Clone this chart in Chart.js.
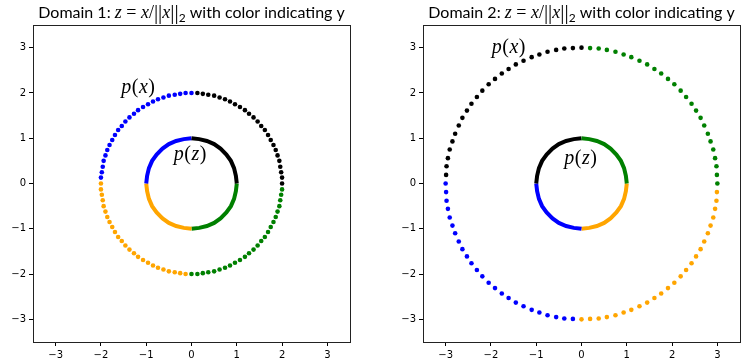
<!DOCTYPE html>
<html>
<head>
<meta charset="utf-8">
<script src="https://cdn.jsdelivr.net/npm/chart.js@4/dist/chart.umd.min.js"></script>
<style>
  body { margin: 0; background: #fff; overflow: hidden; }
  canvas { position: absolute; top: 0; }
</style>
</head>
<body>
<canvas id="domain1" width="373" height="364" style="left:0"></canvas>
<canvas id="domain2" width="373" height="364" style="left:374px"></canvas>
<script>
// Axis ticks (both panels)
const tickValues = [-3, -2, -1, 0, 1, 2, 3];

// Domain 1: outer ring p(x), radius 2, split by quadrant
const d1RingQ1X = [2.00,2.00,1.98,1.96,1.94,1.90,1.86,1.81,1.75,1.69,1.62,1.54,1.46,1.37,1.27,1.18,1.07,0.96,0.85,0.74,0.62,0.50,0.37,0.25,0.13];
const d1RingQ1Y = [0,0.13,0.25,0.37,0.50,0.62,0.74,0.85,0.96,1.07,1.18,1.27,1.37,1.46,1.54,1.62,1.69,1.75,1.81,1.86,1.90,1.94,1.96,1.98,2.00];
const d1RingQ2X = [0,-0.13,-0.25,-0.37,-0.50,-0.62,-0.74,-0.85,-0.96,-1.07,-1.18,-1.27,-1.37,-1.46,-1.54,-1.62,-1.69,-1.75,-1.81,-1.86,-1.90,-1.94,-1.96,-1.98,-2.00];
const d1RingQ2Y = [2.00,2.00,1.98,1.96,1.94,1.90,1.86,1.81,1.75,1.69,1.62,1.54,1.46,1.37,1.27,1.18,1.07,0.96,0.85,0.74,0.62,0.50,0.37,0.25,0.13];
const d1RingQ3X = [-2.00,-2.00,-1.98,-1.96,-1.94,-1.90,-1.86,-1.81,-1.75,-1.69,-1.62,-1.54,-1.46,-1.37,-1.27,-1.18,-1.07,-0.96,-0.85,-0.74,-0.62,-0.50,-0.37,-0.25,-0.13];
const d1RingQ3Y = [0,-0.13,-0.25,-0.37,-0.50,-0.62,-0.74,-0.85,-0.96,-1.07,-1.18,-1.27,-1.37,-1.46,-1.54,-1.62,-1.69,-1.75,-1.81,-1.86,-1.90,-1.94,-1.96,-1.98,-2.00];
const d1RingQ4X = [0,0.13,0.25,0.37,0.50,0.62,0.74,0.85,0.96,1.07,1.18,1.27,1.37,1.46,1.54,1.62,1.69,1.75,1.81,1.86,1.90,1.94,1.96,1.98,2.00];
const d1RingQ4Y = [-2.00,-2.00,-1.98,-1.96,-1.94,-1.90,-1.86,-1.81,-1.75,-1.69,-1.62,-1.54,-1.46,-1.37,-1.27,-1.18,-1.07,-0.96,-0.85,-0.74,-0.62,-0.50,-0.37,-0.25,-0.13];

// Domain 2: outer ring p(x), radius 3, split by quadrant
const d2RingQ1X = [3.00,2.99,2.98,2.95,2.91,2.85,2.79,2.71,2.63,2.53,2.43,2.31,2.19,2.05,1.91,1.76,1.61,1.45,1.28,1.10,0.93,0.75,0.56,0.38,0.19];
const d2RingQ1Y = [0,0.19,0.38,0.56,0.75,0.93,1.10,1.28,1.45,1.61,1.76,1.91,2.05,2.19,2.31,2.43,2.53,2.63,2.71,2.79,2.85,2.91,2.95,2.98,2.99];
const d2RingQ2X = [0,-0.19,-0.38,-0.56,-0.75,-0.93,-1.10,-1.28,-1.45,-1.61,-1.76,-1.91,-2.05,-2.19,-2.31,-2.43,-2.53,-2.63,-2.71,-2.79,-2.85,-2.91,-2.95,-2.98,-2.99];
const d2RingQ2Y = [3.00,2.99,2.98,2.95,2.91,2.85,2.79,2.71,2.63,2.53,2.43,2.31,2.19,2.05,1.91,1.76,1.61,1.45,1.28,1.10,0.93,0.75,0.56,0.38,0.19];
const d2RingQ3X = [-3.00,-2.99,-2.98,-2.95,-2.91,-2.85,-2.79,-2.71,-2.63,-2.53,-2.43,-2.31,-2.19,-2.05,-1.91,-1.76,-1.61,-1.45,-1.28,-1.10,-0.93,-0.75,-0.56,-0.38,-0.19];
const d2RingQ3Y = [0,-0.19,-0.38,-0.56,-0.75,-0.93,-1.10,-1.28,-1.45,-1.61,-1.76,-1.91,-2.05,-2.19,-2.31,-2.43,-2.53,-2.63,-2.71,-2.79,-2.85,-2.91,-2.95,-2.98,-2.99];
const d2RingQ4X = [0,0.19,0.38,0.56,0.75,0.93,1.10,1.28,1.45,1.61,1.76,1.91,2.05,2.19,2.31,2.43,2.53,2.63,2.71,2.79,2.85,2.91,2.95,2.98,2.99];
const d2RingQ4Y = [-3.00,-2.99,-2.98,-2.95,-2.91,-2.85,-2.79,-2.71,-2.63,-2.53,-2.43,-2.31,-2.19,-2.05,-1.91,-1.76,-1.61,-1.45,-1.28,-1.10,-0.93,-0.75,-0.56,-0.38,-0.19];

// p(z): unit circle, same positions in both panels
const unitQ1X = [1.00,0.98,0.94,0.87,0.77,0.64,0.50,0.34,0.17,0];
const unitQ1Y = [0,0.17,0.34,0.50,0.64,0.77,0.87,0.94,0.98,1.00];
const unitQ2X = [0,-0.17,-0.34,-0.50,-0.64,-0.77,-0.87,-0.94,-0.98,-1.00];
const unitQ2Y = [1.00,0.98,0.94,0.87,0.77,0.64,0.50,0.34,0.17,0];
const unitQ3X = [-1.00,-0.98,-0.94,-0.87,-0.77,-0.64,-0.50,-0.34,-0.17,0];
const unitQ3Y = [0,-0.17,-0.34,-0.50,-0.64,-0.77,-0.87,-0.94,-0.98,-1.00];
const unitQ4X = [0,0.17,0.34,0.50,0.64,0.77,0.87,0.94,0.98,1.00];
const unitQ4Y = [-1.00,-0.98,-0.94,-0.87,-0.77,-0.64,-0.50,-0.34,-0.17,0];

// Colour of each quadrant group, per panel
const d1Colors = ['#000000', '#0000ff', '#ffa500', '#008000'];
const d2Colors = ['#008000', '#000000', '#0000ff', '#ffa500'];

function pts(xs, ys) {
    return xs.map((x, i) => ({ x: x, y: ys[i] }));
}

// Title with a bit of math in it
const mathTitle = {
    id: 'mathTitle',
    afterDraw(chart, args, opts) {
        const ctx = chart.ctx;
        const a = chart.chartArea;
        const sans = '16px Lato';
        const serif = '18px "Liberation Serif"';
        const ital = 'italic 18px "Liberation Serif"';
        const bars = '21px "Liberation Serif"';
        const parts = [
            [opts.text, sans, 0], ['z', ital, 0], [' = ', serif, 0], ['x', ital, 0],
            ['/', serif, 0], ['||', bars, 1], ['x', ital, 0],
            ['||', bars, 1], ['2', '12px Lato', 4],
            [' with color indicating y', sans, 0]
        ];
        ctx.save();
        let total = 0;
        parts.forEach(p => { ctx.font = p[1]; total += ctx.measureText(p[0]).width; });
        let x = (a.left + a.right) / 2 - total / 2;
        ctx.fillStyle = '#000';
        ctx.textBaseline = 'alphabetic';
        ctx.textAlign = 'left';
        parts.forEach(p => {
            ctx.font = p[1];
            ctx.fillText(p[0], x, 18 + p[2]);
            x += ctx.measureText(p[0]).width;
        });
        ctx.restore();
    }
};

// p(x) / p(z) labels and the box around the axes
const ringLabels = {
    id: 'ringLabels',
    afterDraw(chart, args, opts) {
        const ctx = chart.ctx;
        const a = chart.chartArea;
        ctx.save();
        ctx.strokeStyle = '#222';
        ctx.lineWidth = 1;
        ctx.strokeRect(Math.round(a.left) + 0.5, Math.round(a.top) + 0.5,
            Math.round(a.right - a.left), Math.round(a.bottom - a.top));
        ctx.fillStyle = '#000';
        ctx.textBaseline = 'middle';
        ctx.textAlign = 'left';
        opts.labels.forEach(l => {
            let x = chart.scales.x.getPixelForValue(l.x);
            const y = chart.scales.y.getPixelForValue(l.y);
            [['p', true], ['(', false], [l.v, true], [')', false]].forEach(p => {
                ctx.font = (p[1] ? 'italic ' : '') + '20px "Liberation Serif"';
                ctx.fillText(p[0], x, y);
                x += ctx.measureText(p[0]).width + 0.5;
            });
        });
        ctx.restore();
    }
};

function axis(extra) {
    return Object.assign({
        type: 'linear',
        min: -3.5,
        max: 3.5,
        afterBuildTicks: s => { s.ticks = tickValues.map(v => ({ value: v })); },
        grid: { drawOnChartArea: false, drawTicks: true, tickLength: 4, tickColor: '#000' },
        border: { display: false },
        ticks: {
            autoSkip: false,
            maxRotation: 0,
            padding: 3,
            color: '#000',
            font: { family: 'DejaVu Sans', size: 10 },
            callback: v => v < 0 ? '\u2212' + Math.abs(v) : String(v)
        }
    }, extra);
}

function makeChart(id, rings, colors, title, labels, yWidth, padRight) {
    const datasets = [];
    const units = [[unitQ1X, unitQ1Y], [unitQ2X, unitQ2Y], [unitQ3X, unitQ3Y], [unitQ4X, unitQ4Y]];
    units.forEach((u, i) => {
        datasets.push({
            data: pts(u[0], u[1]),
            showLine: true,
            borderColor: colors[i],
            borderWidth: 4,
            borderCapStyle: 'butt',
            pointRadius: 0
        });
    });
    rings.forEach((r, i) => {
        datasets.push({
            data: pts(r[0], r[1]),
            backgroundColor: colors[i],
            borderWidth: 0,
            pointRadius: 2.3
        });
    });
    return new Chart(document.getElementById(id), {
        type: 'scatter',
        data: { datasets: datasets },
        plugins: [mathTitle, ringLabels],
        options: {
            responsive: false,
            animation: false,
            events: [],
            layout: { padding: { top: 25, right: padRight, left: 0, bottom: 0 } },
            scales: {
                x: axis({ afterFit: s => { s.height = 22; } }),
                y: axis({ afterFit: s => { s.width = yWidth; } })
            },
            plugins: {
                legend: { display: false },
                tooltip: { enabled: false },
                mathTitle: { text: title },
                ringLabels: { labels: labels }
            }
        }
    });
}

makeChart('domain1',
    [[d1RingQ1X, d1RingQ1Y], [d1RingQ2X, d1RingQ2Y], [d1RingQ3X, d1RingQ3Y], [d1RingQ4X, d1RingQ4Y]],
    d1Colors, 'Domain 1: ',
    [{ v: 'x', x: -1.55, y: 2.11 }, { v: 'z', x: -0.39, y: 0.64 }],
    33, 23);

makeChart('domain2',
    [[d2RingQ1X, d2RingQ1Y], [d2RingQ2X, d2RingQ2Y], [d2RingQ3X, d2RingQ3Y], [d2RingQ4X, d2RingQ4Y]],
    d2Colors, 'Domain 2: ',
    [{ v: 'x', x: -1.98, y: 3.0 }, { v: 'z', x: -0.38, y: 0.55 }],
    49, 7);
</script>
</body>
</html>
